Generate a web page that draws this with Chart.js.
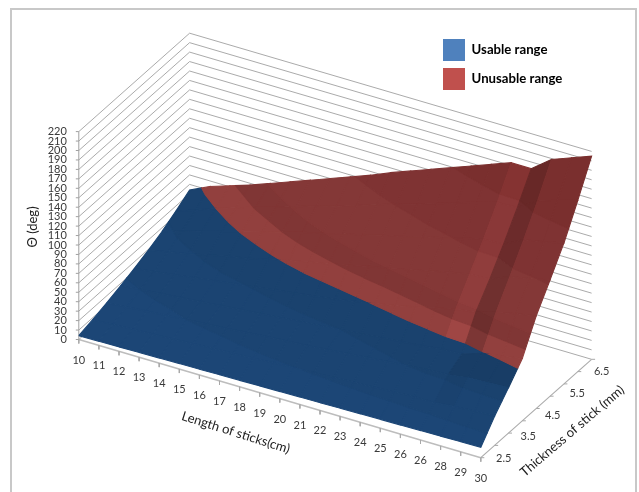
<!DOCTYPE html>
<html>
<head>
<meta charset="utf-8">
<style>html,body{margin:0;padding:0;background:#fff}canvas{display:block;filter:blur(0.35px)}</style>
<script src="https://cdn.jsdelivr.net/npm/chart.js@4/dist/chart.umd.min.js"></script>
</head>
<body>
<canvas id="c" width="639" height="492"></canvas>
<script>
// ---- data ----
const lengths = [10,11,12,13,14,15,16,17,18,19,20,21,22,23,24,25,26,27,28,29,30];
const lengthLabels = ["10","11","12","13","14","15","16","17","18","19","20","21","22","23","24","25","26","26","28","29","30"];
const thicknesses = [2.5,3,3.5,4,4.5,5,5.5,6,6.5];
const thicknessLabels = ["2.5","3.5","4.5","5.5","6.5"];
const thetaTicks = [0,10,20,30,40,50,60,70,80,90,100,110,120,130,140,150,160,170,180,190,200,210,220];
const thetaAt2_5 = [4,4.4,4.7,5.1,5.4,5.8,6.1,6.5,6.8,7.2,7.5,7.9,8.2,8.6,8.9,9.3,9.6,10,10.3,10.7,11];
const thetaAt3_0 = [8,9.1,10.3,11.4,12.6,13.8,14.9,16,17.2,18.4,19.5,20.6,21.8,23,24.1,25.2,26.4,26.5,28.7,29.8,31];
const thetaAt3_5 = [12.5,14.5,16.5,18,20,21.5,23,25,27,28.5,30,32,34,36,38,40,42,43,46,47,48];
const thetaAt4_0 = [17.5,20,22,24,26,28,30,32,34,36,38,40,42,44,46,48,51,52,59,62,66];
const thetaAt4_5 = [23,26,29,32,35,38,41,44,47,50,53,57,61,65,70,75,80,83,89,94,98];
const thetaAt5_0 = [29,34,38,43,48,52,57,62,67,71,76,81,85,90,95,100,104,105,114,118,123];
const thetaAt5_5 = [36,43,49,55,61,67,73,79,84,90,95,101,106,112,117,123,128,129,140,144,149];
const thetaAt6_0 = [44.5,52,60,67,74,80,87,94,100,107,114,121,127,134,141,148,154,155,168,175,181];
const thetaAt6_5 = [54,64,71,78,86,94,102,110,118,126,135,143,151,159,167,175,183,183,199,207,215];
const thetaRows = [thetaAt2_5,thetaAt3_0,thetaAt3_5,thetaAt4_0,thetaAt4_5,thetaAt5_0,thetaAt5_5,thetaAt6_0,thetaAt6_5];
const legendNames = ["Usable range","Unusable range"];
const legendColors = ["#4f81bd","#c0504d"];
const usableLimit = 60;

// ---- oblique projection of the 3-D box onto the flat plot scales ----
const project = (L,T,th) => ({
  x: 78.8 + 20.1*(L-10) + 27.7*(T-2.5),
  y: 339.5 + 5.91*(L-10) - 24.6*(T-2.5) - 0.945*th
});
const Lmin = lengths[0], Lmax = lengths[lengths.length-1];
const Tmin = thicknesses[0], Tmax = thicknesses[thicknesses.length-1];
const thMax = thetaTicks[thetaTicks.length-1];

// ---- paint list, back to front ----
const layers = [];
function line(pts,color,width){
  layers.push({data:pts,showLine:true,borderColor:color,borderWidth:width,pointRadius:0,fill:false,tension:0});
}
function poly(pts,color){
  const closed = pts.concat([pts[0]]);
  layers.push({data:closed,showLine:true,borderColor:color,borderWidth:1.1,backgroundColor:color,pointRadius:0,fill:'shape',tension:0});
}
// walls
thetaTicks.forEach(th=>{
  line([project(Lmin,Tmin,th),project(Lmin,Tmax,th),project(Lmax,Tmax,th)],'#a0a0a0',0.9);
});
// floor axes
line([project(Lmin,Tmin,0),project(Lmax,Tmin,0)],'#bdbdbd',1.6);
line([project(Lmax,Tmin,0),project(Lmax,Tmax,0)],'#ababab',1.1);
line([project(Lmin,Tmin,0),project(Lmin,Tmin,thMax)],'#a0a0a0',1);
lengths.forEach(L=>{const p=project(L,Tmin,0);line([p,{x:p.x,y:p.y+4}],'#a8a8a8',1);});
thicknesses.forEach(T=>{const p=project(Lmax,T,0);line([p,{x:p.x+3.5,y:p.y}],'#a8a8a8',1);});
thetaTicks.forEach(th=>{const p=project(Lmin,Tmin,th);line([{x:p.x-3,y:p.y},p],'#a0a0a0',1);});

// surface bands
const bands = [
  {lo:-1,hi:20,c:[28,70,118],blue:true},
  {lo:20,hi:40,c:[27,68,114],blue:true},
  {lo:40,hi:usableLimit,c:[26,66,110],blue:true},
  {lo:usableLimit,hi:73,c:[146,64,62]},
  {lo:73,hi:85,c:[128,54,53]},
  {lo:85,hi:120,c:[132,56,55]},
  {lo:120,hi:160,c:[127,51,51]},
  {lo:160,hi:300,c:[122,47,46]}
];
function clip(poly3,level,keepAbove){
  const out=[];
  for(let i=0;i<poly3.length;i++){
    const a=poly3[i],b=poly3[(i+1)%poly3.length];
    const ina=keepAbove?a[2]>=level:a[2]<=level, inb=keepAbove?b[2]>=level:b[2]<=level;
    if(ina) out.push(a);
    if(ina!==inb){
      const t=(level-a[2])/(b[2]-a[2]);
      out.push([a[0]+t*(b[0]-a[0]),a[1]+t*(b[1]-a[1]),level]);
    }
  }
  return out;
}
function shade(c,f){return 'rgb('+c.map(v=>Math.round(v*f)).join(',')+')';}
for(let j=thicknesses.length-2;j>=0;j--){
  for(let i=0;i<lengths.length-1;i++){
    const cell=[
      [lengths[i],thicknesses[j],thetaRows[j][i]],
      [lengths[i+1],thicknesses[j],thetaRows[j][i+1]],
      [lengths[i+1],thicknesses[j+1],thetaRows[j+1][i+1]],
      [lengths[i],thicknesses[j+1],thetaRows[j+1][i]]
    ];
    bands.forEach(b=>{
      let part=clip(cell,b.lo,true);
      if(part.length>2) part=clip(part,b.hi,false);
      if(part.length<3) return;
      let f=1;
      if(b.blue){
        if(j===2 && lengths[i]>=27) f=0.93;
        else if(j===1 && lengths[i]===27) f=0.97;
      }else{
        if(lengths[i]===26) f=1.09;
        if(lengths[i]===27) f=0.85;
      }
      poly(part.map(p=>project(p[0],p[1],p[2])),shade(b.c,f));
    });
  }
}
layers.reverse(); // Chart.js paints dataset 0 last

// ---- text drawn through the same scales ----
const textPlugin={
  id:'boxText',
  beforeDraw(chart){
    const g=chart.ctx;
    g.save();
    g.strokeStyle='#c8c8c8';g.lineWidth=2;
    g.strokeRect(chart.scales.x.getPixelForValue(11),chart.scales.y.getPixelForValue(9),625,520);
    g.restore();
  },
  afterDraw(chart){
    const g=chart.ctx,sx=chart.scales.x,sy=chart.scales.y;
    const put=(t,x,y,font,col,rot,al)=>{
      g.save();g.translate(sx.getPixelForValue(x),sy.getPixelForValue(y));g.rotate((rot||0)*Math.PI/180);
      g.font=font;g.fillStyle=col;g.textAlign=al||'center';g.textBaseline='middle';g.fillText(t,0,0);g.restore();
    };
    const tickFont='11px Lato';
    lengthLabels.forEach((t,i)=>{const p=project(lengths[i],Tmin,0);put(t,p.x,p.y+20.5,tickFont,'#3a3a3a');});
    thicknessLabels.forEach(t=>{const T=parseFloat(t),p=project(Lmax,T,0);
      put(t,p.x+23-3.25*(T-Tmin),p.y+1+2.75*(T-Tmin),tickFont,'#3a3a3a');});
    thetaTicks.forEach(th=>{const p=project(Lmin,Tmin,th);put(String(th),p.x-12,p.y,'11px Lato','#3a3a3a',0,'right');});
    put('Length of sticks(cm)',project(20,Tmin,0).x-44,project(20,Tmin,0).y+34,'13px Lato','#222',17.5);
    put('Thickness of stick (mm)',project(Lmax,4.5,0).x+36,project(Lmax,4.5,0).y+22.5,'13px Lato','#222',-40.6);
    put('\u0398 (deg)',33,227,'13px Lato','#222',-90);
  }
};
const legendPlacer={
  id:'legendPlacer',
  afterLayout(chart){
    const l=chart.legend;
    const w=l.right-l.left,h=l.bottom-l.top;
    l.left=436;l.top=32;l.right=436+w;l.bottom=32+h;
  }
};
new Chart(document.getElementById('c'),{
  type:'scatter',
  data:{datasets:layers},
  plugins:[textPlugin,legendPlacer],
  options:{
    responsive:false,animation:false,events:[],
    layout:{padding:0},
    scales:{
      x:{type:'linear',min:0,max:639,display:false},
      y:{type:'linear',min:0,max:492,reverse:true,display:false}
    },
    plugins:{
      tooltip:{enabled:false},
      filler:{propagate:false},
      legend:{
        display:true,position:'chartArea',align:'start',
        labels:{
          boxWidth:22,boxHeight:22,padding:7,color:'#000',
          font:{family:'Lato',size:13.2,weight:'bold'},
          generateLabels:()=>legendNames.map((n,i)=>({text:n,fillStyle:legendColors[i],strokeStyle:legendColors[i],lineWidth:0,hidden:false,index:i}))
        }
      }
    }
  }
});
</script>
</body>
</html>
